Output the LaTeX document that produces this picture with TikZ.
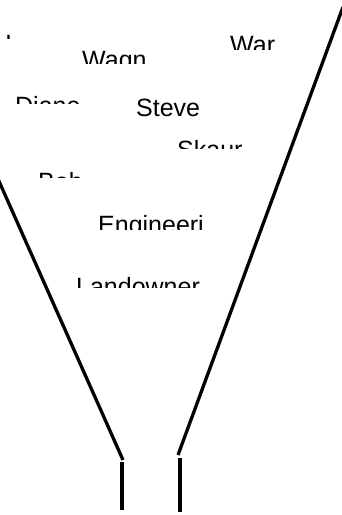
\documentclass[tikz,border=0pt]{standalone}
\usepackage{fontspec}
\setmainfont{Liberation Sans}
\begin{document}
\begin{tikzpicture}[x=1pt, y=-1pt,
    every node/.style={font=\fontsize{25}{30}\selectfont, inner sep=0pt, anchor=base west},
    funnel/.style={line width=3.3pt}]
        \useasboundingbox (0,0) rectangle (342,515);

        % names, cut off at the bottom of their boxes
        \begin{scope}
            \clip (0,0) rectangle (40,38);
            \node (frag) at (5,52) {I};
        \end{scope}
        \begin{scope}
            \clip (60,30) rectangle (160,63);
            \node (wagn) at (82,68) {Wagn};
        \end{scope}
        \begin{scope}
            \clip (200,20) rectangle (300,49);
            \node (war) at (230,53) {War};
        \end{scope}
        \begin{scope}
            \clip (0,80) rectangle (110,103);
            \node (diane) at (15,114) {Diane};
        \end{scope}
        \node (steve) at (136,116) {Steve};
        \begin{scope}
            \clip (160,125) rectangle (270,148);
            \node (skaur) at (177,158) {Skaur};
        \end{scope}
        \begin{scope}
            \clip (20,160) rectangle (110,177);
            \node (bob) at (38,190) {Bob};
        \end{scope}
        \begin{scope}
            \clip (80,200) rectangle (212,229);
            \node (eng) at (98,233) {Engineeri};
        \end{scope}
        \begin{scope}
            \clip (60,260) rectangle (230,287);
            \node (land) at (76,295) {Landowner};
        \end{scope}

        % funnel
        \coordinate (lt) at (-2,179);
        \coordinate (lb) at (123,460);
        \coordinate (rt) at (343,7);
        \coordinate (rb) at (178,455);
        \coordinate (ls) at (122,462);
        \coordinate (le) at (122,510);
        \coordinate (rs) at (180,458);
        \coordinate (re) at (180,512);
        \draw[funnel] (lt) -- (lb);
        \draw[funnel] (rt) -- (rb);
        \draw[funnel] (ls) -- (le);
        \draw[funnel] (rs) -- (re);
\end{tikzpicture}
\end{document}
